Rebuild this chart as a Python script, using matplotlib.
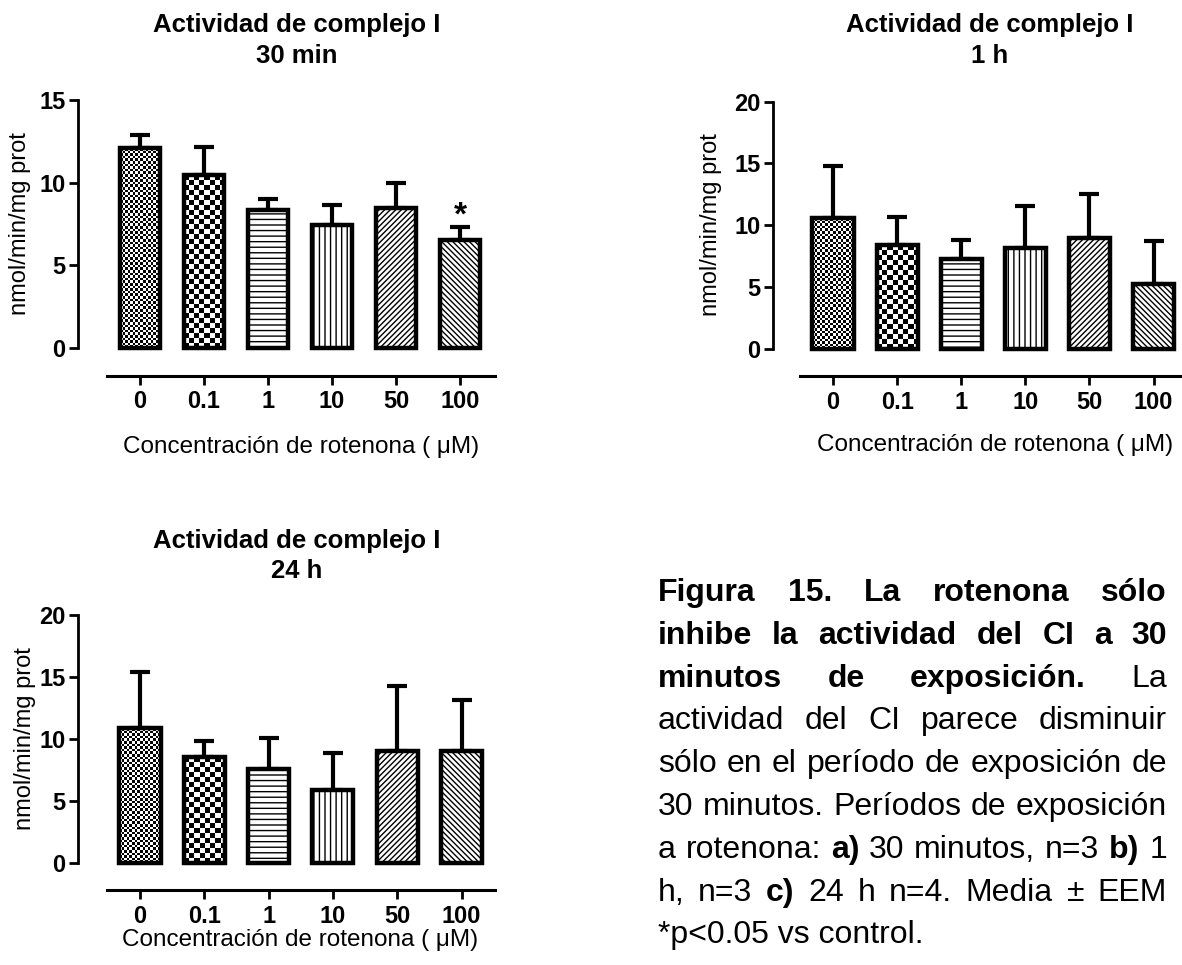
import numpy as np
import matplotlib
matplotlib.use('Agg')
import matplotlib.pyplot as plt

plt.rcParams['font.family'] = ['Liberation Sans', 'DejaVu Sans']
plt.rcParams['hatch.linewidth'] = 1.0

W, H = 1182, 965

concentraciones = ['0', '0.1', '1', '10', '50', '100']

# medias y error estandar (solo la parte superior se dibuja)
media_30min = [12.07, 10.46, 8.34, 7.43, 8.48, 6.56]
eem_30min = [0.81, 1.71, 0.68, 1.21, 1.53, 0.73]
media_1h = [10.58, 8.37, 7.29, 8.18, 8.99, 5.21]
eem_1h = [4.21, 2.26, 1.51, 3.34, 3.53, 3.53]
media_24h = [10.87, 8.53, 7.54, 5.89, 9.01, 9.01]
eem_24h = [4.50, 1.32, 2.50, 2.99, 5.26, 4.15]

# patron de relleno de cada barra
patrones = ['cuadros_finos', 'cuadros', '---', '|||', '//////', '\\\\\\\\\\\\']


def fx(px):
    return px / W


def fy(py):
    return 1 - py / H


fig = plt.figure(figsize=(W / 100, H / 100), dpi=100)


def panel(left, right, y0, ytop, x0px, paso, ymax, yticks, media, eem,
          eje_inicio, offset):
    x = np.arange(len(concentraciones))
    xmin = (left - x0px) / paso
    xmax = (right - x0px) / paso
    ax = fig.add_axes([fx(left), fy(y0), (right - left) / W, (y0 - ytop) / H])
    ax.set_xlim(xmin, xmax)
    ax.set_ylim(0, ymax)
    ancho = 0.64

    ax.errorbar(x, media, yerr=[np.zeros(len(x)), eem], fmt='none',
                ecolor='black', elinewidth=3, capsize=7.5, capthick=3,
                zorder=2, clip_on=False)

    for i, (xi, h) in enumerate(zip(x, media)):
        pat = patrones[i]
        if pat.startswith('cuadros'):
            celda = 2.6 if pat == 'cuadros_finos' else 5.0
            p0 = ax.transData.transform((xi - ancho / 2, 0))
            p1 = ax.transData.transform((xi + ancho / 2, h))
            nx = max(1, int(round((p1[0] - p0[0]) / celda)))
            ny = max(1, int(round((p1[1] - p0[1]) / celda)))
            tablero = np.add.outer(np.arange(ny), np.arange(nx)) % 2
            ax.imshow(tablero, cmap='gray', vmin=0, vmax=1,
                      extent=(xi - ancho / 2, xi + ancho / 2, 0, h),
                      origin='lower', aspect='auto', interpolation='nearest',
                      zorder=2.5)
            ax.bar(xi, h, width=ancho, facecolor='none', edgecolor='black',
                   linewidth=3.2, zorder=3, clip_on=False)
        else:
            ax.bar(xi, h, width=ancho, facecolor='white', edgecolor='black',
                   linewidth=3.2, hatch=pat, zorder=3, clip_on=False)

    ax.set_xlim(xmin, xmax)
    ax.set_ylim(0, ymax)

    for s in ['top', 'right']:
        ax.spines[s].set_visible(False)
    ax.spines['left'].set_linewidth(2)
    ax.spines['left'].set_bounds(0, ymax)
    ax.spines['bottom'].set_linewidth(2.2)
    ax.spines['bottom'].set_position(('outward', offset))
    ax.spines['bottom'].set_bounds((eje_inicio - x0px) / paso, xmax)

    ax.set_yticks(yticks, [str(t) for t in yticks], fontsize=17,
                  fontweight='bold')
    ax.set_xticks(x, concentraciones, fontsize=17, fontweight='bold')
    ax.tick_params(axis='y', length=6.5, width=2, pad=2.5)
    ax.tick_params(axis='x', length=6.5, width=2, pad=4)
    return ax


ax_a = panel(78, 495, 348, 100, 140, 64, 15, [0, 5, 10, 15],
             media_30min, eem_30min, 107, 20)
ax_b = panel(773, 1182, 348.7, 101.7, 833, 64.1, 20, [0, 5, 10, 15, 20],
             media_1h, eem_1h, 800, 19.7)
ax_c = panel(78, 495, 862.7, 615, 140, 64.3, 20, [0, 5, 10, 15, 20],
             media_24h, eem_24h, 107, 19.7)

# asterisco de significancia en 100 uM, 30 min
ax_a.text(5, media_30min[5] + eem_30min[5] + 0.2, '*', ha='center',
          va='baseline', fontsize=24, fontweight='bold')

# titulos
for cx, b1, b2, sub in [(297, 32, 63, '30 min'), (990, 32, 63, '1 h'),
                        (297, 548, 578, '24 h')]:
    fig.text(fx(cx), fy(b1), 'Actividad de complejo I', ha='center',
             va='baseline', fontsize=18.5, fontweight='bold')
    fig.text(fx(cx), fy(b2), sub, ha='center', va='baseline', fontsize=18.5,
             fontweight='bold')

# etiquetas de ejes
for cx, cy in [(301, 447), (995, 445), (300, 940)]:
    fig.text(fx(cx), fy(cy), 'Concentración de rotenona ( μM)', ha='center',
             va='center', fontsize=17.5)
for cx, cy in [(20, 224), (711, 225), (25, 739)]:
    fig.text(fx(cx), fy(cy), 'nmol/min/mg prot', ha='center', va='center',
             rotation=90, fontsize=17)

# leyenda de la figura, texto justificado
lineas = [
    [('Figura 15. La rotenona sólo', True)],
    [('inhibe la actividad del CI a 30', True)],
    [('minutos de exposición.', True), ('La', False)],
    [('actividad del CI parece disminuir', False)],
    [('sólo en el período de exposición de', False)],
    [('30 minutos. Períodos de exposición', False)],
    [('a rotenona:', False), ('a)', True), ('30 minutos, n=3', False),
     ('b)', True), ('1', False)],
    [('h, n=3', False), ('c)', True), ('24 h n=4. Media ± EEM', False)],
    [('*p<0.05 vs control.', False)],
]
izq, der = 658, 1167
base0, interlinea = 601, 42.8
tam = 23

renderer = fig.canvas.get_renderer()
for n, linea in enumerate(lineas):
    yb = fy(base0 + n * interlinea)
    if n == len(lineas) - 1:
        fig.text(fx(izq), yb, linea[0][0], ha='left', va='baseline',
                 fontsize=tam)
        continue
    palabras = [(p, b) for seg, b in linea for p in seg.split(' ')]
    textos = []
    anchos = []
    for p, b in palabras:
        t = fig.text(0, yb, p, ha='left', va='baseline', fontsize=tam,
                     fontweight='bold' if b else 'normal')
        textos.append(t)
        anchos.append(t.get_window_extent(renderer).width)
    hueco = (der - izq - sum(anchos)) / (len(palabras) - 1)
    xp = izq
    for t, a in zip(textos, anchos):
        t.set_x(fx(xp))
        xp += a + hueco

fig.savefig('out.png', dpi=100)
